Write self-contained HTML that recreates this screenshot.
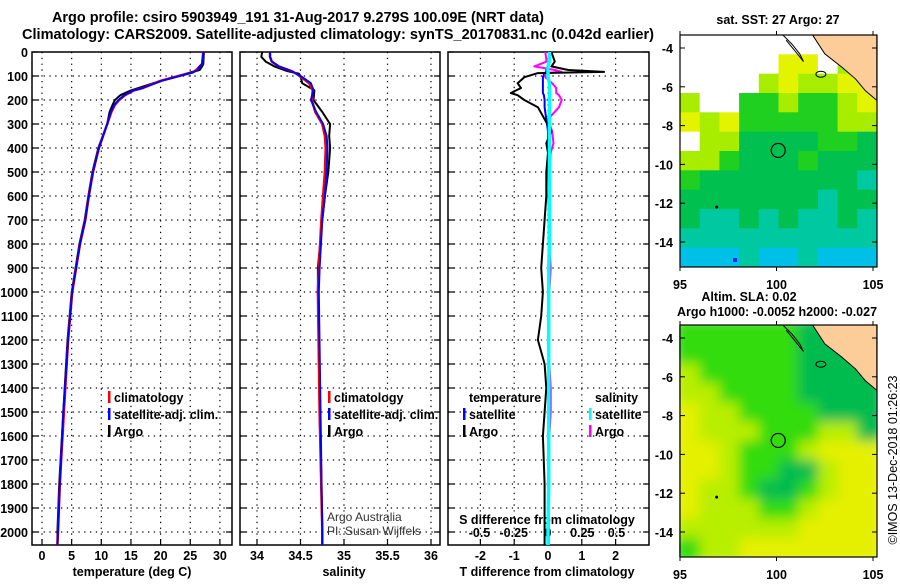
<!DOCTYPE html>
<html><head><meta charset="utf-8"><style>
body{margin:0;background:#fff}
svg text{font-family:"Liberation Sans",sans-serif;font-weight:bold;font-size:12.5px;fill:#000}
</style></head><body>
<svg id="c" width="900" height="580" xmlns="http://www.w3.org/2000/svg">
<defs>
<clipPath id="cp1"><rect x="32" y="52" width="200" height="493"/></clipPath>
<clipPath id="cp2"><rect x="240" y="52" width="200" height="493"/></clipPath>
<clipPath id="cp3"><rect x="448" y="52" width="201" height="493"/></clipPath>
<clipPath id="cm1"><rect x="680" y="35" width="197" height="232"/></clipPath>
<clipPath id="cm2"><rect x="679" y="325" width="198" height="232"/></clipPath>
<filter id="bl" x="-5%" y="-5%" width="110%" height="110%"><feGaussianBlur stdDeviation="6"/></filter>
</defs>
<text x="52" y="22" textLength="492" lengthAdjust="spacingAndGlyphs" style="font-size:14.5px">Argo profile: csiro 5903949_191 31-Aug-2017 9.279S 100.09E (NRT data)</text>
<text x="22" y="39" textLength="632" lengthAdjust="spacingAndGlyphs" style="font-size:14.5px">Climatology: CARS2009. Satellite-adjusted climatology: synTS_20170831.nc (0.042d earlier)</text>
<g id="g"></g>
</svg>
<script>
// ---- data ----
const depthT = [0,50,60,75,85,100,120,150,160,180,200,220,250,300,400,500,600,700,800,1000,1200,1500,1800,2000,2055];
const tempClim = [27.2,27.0,26.6,26.0,25.4,23.0,20.0,17.0,15.5,14.0,13.0,12.3,11.7,11.0,9.6,8.6,7.9,7.3,6.4,5.1,4.4,3.7,3.0,2.7,2.6];
const tempSat  = [27.2,27.0,26.6,26.2,25.5,23.2,20.2,17.0,15.4,13.9,12.9,12.2,11.6,11.0,9.6,8.6,7.9,7.3,6.4,5.1,4.4,3.6,3.0,2.7,2.6];
const tempArgo = [27.3,27.2,27.0,26.6,25.0,23.0,20.0,16.3,15.0,13.2,12.3,11.9,11.4,11.0,9.5,8.5,7.8,7.2,6.3,5.0,4.3,3.6,2.9,2.6,2.6];
const depthS = [0,20,40,60,80,90,100,130,160,200,250,300,350,400,500,600,700,900,1000,1500,2000,2055];
const salClim = [34.15,34.15,34.17,34.25,34.4,34.45,34.49,34.6,34.64,34.63,34.67,34.75,34.78,34.79,34.78,34.76,34.74,34.71,34.70,34.72,34.75,34.75];
const salSat  = [34.15,34.15,34.17,34.25,34.4,34.45,34.5,34.62,34.65,34.62,34.68,34.76,34.8,34.81,34.8,34.78,34.75,34.72,34.71,34.73,34.75,34.75];
const salArgo = [34.06,34.05,34.1,34.2,34.35,34.48,34.5,34.52,34.66,34.65,34.75,34.84,34.83,34.84,34.82,34.78,34.75,34.70,34.70,34.72,34.75,34.75];
const depthD = [0,40,60,75,83,88,105,130,150,171,180,200,230,280,330,380,420,500,600,700,800,900,1000,1100,1200,1300,1400,1500,1600,1800,2000,2055];
const tdiffArgo = [0.1,0.2,0.1,0.6,1.66,-0.3,-0.7,-0.9,-0.8,-1.1,-0.9,-0.7,-0.3,-0.1,0.1,-0.05,0,-0.05,-0.05,-0.1,-0.15,-0.2,-0.15,-0.2,-0.3,-0.1,-0.05,-0.1,-0.15,-0.1,-0.1,-0.1];
const tdiffSat  = [0.05,0.05,0.0,-0.05,-0.05,-0.1,-0.15,-0.15,-0.15,-0.15,-0.12,-0.1,-0.1,-0.05,0,0,0,0,0.02,0.02,0.02,0.02,0.02,0.02,0.02,0.02,0.02,0.02,0.02,0.02,0.02,0.02];
const sdiffArgo = [-0.02,-0.01,-0.1,0.05,0.1,-0.02,-0.02,0.03,0.06,0.06,0.08,0.1,0.08,0.0,0.03,0.04,0.02,0.01,0,0.01,0.01,0.02,0.01,0.01,0.01,0.01,0.02,0.02,0.01,0.01,0.0,0.0];
const sdiffSat  = [0.01,0.01,0.0,0.0,0.0,0.0,0.0,0.01,0.01,0.01,0.01,0.01,0.01,0.01,0.01,0.01,0.01,0.01,0.01,0.01,0.01,0.005,0.005,0.005,0.005,0.005,0.005,0.005,0.005,0.005,0,0];
const depthTicks = [0,100,200,300,400,500,600,700,800,900,1000,1100,1200,1300,1400,1500,1600,1700,1800,1900,2000];
const tempTicks = [0,5,10,15,20,25,30];
const salTicks = [34,34.5,35,35.5,36];
const salTickLabels = ["34","34.5","35","35.5","36"];
const tdTicks = [-2,-1,0,1,2];
const sdTicks = [-0.5,-0.25,0,0.25,0.5];
const sdTickLabels = ["-0.5","-0.25","0","0.25","0.5"];
const latTicks = [-4,-6,-8,-10,-12,-14];
const lonTicks = [95,100,105];
const sstGrid = ["WWWWWWWWWO","WWWWWYYWLO","WWWWLYLLYY","LWWGGLGGLY","YLYGGGGGLL","WLLDDDDGGD","LLGDDDGDDD","GDDDDDDDDT","DDDDDDDTDD","DTTDTDTTDT","TTTTTTTTTT","CCCTCCTCCC"];
const slaGrid = ["GGGGGGDDOO","GGGGGGDDDO","LGGGGGDDDD","LLGGGGDDDD","YLLGGGGDDD","YLLLGGGLLD","YYLGGGLYYY","YYLGGDDLYY","YLLGDDGLYY","YLLLGGLYYY","LLLLLLYYYY","GLLYYYYYYY"];

// ---- scales ----
const yD = d => 52 + d*0.24;
const xT = t => 42 + t*5.93;
const xS = s => 257 + (s-34)*87;
const xTD = v => 548 + v*33.8;
const xSD = v => 548 + v*137;
const mx1 = lon => 680 + (lon-95)*19.3;
const my1 = lat => 48 + (-4-lat)*19.4;
const mx2 = lon => 680 + (lon-95)*19.3;
const my2 = lat => 338 + (-4-lat)*19.4;

const NS="http://www.w3.org/2000/svg", G=document.getElementById('g');
function mk(tag, at, parent){const e=document.createElementNS(NS,tag);for(const k in at)e.setAttribute(k,at[k]);(parent||G).appendChild(e);return e;}
function txt(x,y,s,anchor,extra,parent){const e=mk('text',Object.assign({x:x,y:y,'text-anchor':anchor||'start'},extra||{}),parent);e.textContent=s;return e;}
function line(xs,ys,depths,xf,color,w,clip,name){
  const pts=depths.map((d,i)=>xf(xs[i]).toFixed(1)+','+yD(d).toFixed(1)).join(' ');
  const e=mk('polyline',{points:pts,fill:'none',stroke:color,'stroke-width':w,'stroke-linejoin':'round','clip-path':'url(#'+clip+')'});
  
  
}
function panel(x0,w,vticks,xf,clip,name){
  const g=mk('g',{});
  
  
  depthTicks.forEach(d=>{if(d>0)mk('line',{x1:x0,x2:x0+w,y1:yD(d),y2:yD(d),stroke:'#000','stroke-dasharray':'1.3,4.5','stroke-width':1.2},g);
    mk('line',{x1:x0,x2:x0+6,y1:yD(d),y2:yD(d),stroke:'#000','stroke-width':1.2},g);
    mk('line',{x1:x0+w-6,x2:x0+w,y1:yD(d),y2:yD(d),stroke:'#000','stroke-width':1.2},g);});
  vticks.forEach(v=>{const x=xf(v);mk('line',{x1:x,x2:x,y1:52,y2:545,stroke:'#000','stroke-dasharray':'1.3,4.5','stroke-width':1.2},g);
    mk('line',{x1:x,x2:x,y1:539,y2:545,stroke:'#000','stroke-width':1.2},g);});
  mk('rect',{x:x0,y:52,width:w,height:493,fill:'none',stroke:'#000','stroke-width':1.5},g);
}
panel(32,200,tempTicks,xT,'cp1','temperature-panel');
panel(240,200,salTicks,xS,'cp2','salinity-panel');
panel(448,201,tdTicks,xTD,'cp3','difference-panel');
depthTicks.forEach(d=>{const t=txt(28,yD(d)+5,String(d),'end');
  
  });
tempTicks.forEach(v=>{const t=txt(xT(v),560,String(v),'middle');
  
  });
salTicks.forEach((v,i)=>{const t=txt(xS(v),560,salTickLabels[i],'middle');
  
  });
tdTicks.forEach(v=>{const t=txt(xTD(v),560,String(v),'middle');
  
  });
sdTicks.forEach((v,i)=>{const t=txt(xSD(v),537,sdTickLabels[i],'middle');
  
  });
[[132,'temperature (deg C)','x-axis-title-temperature'],[344,'salinity','x-axis-title-salinity'],[547,'T difference from climatology','x-axis-title-tdiff']].forEach(a=>{const t=txt(a[0],576,a[1],'middle');
  
  });
{const t=txt(547,524,'S difference from climatology','middle');
 
 }

line(tempArgo,null,depthT,xT,'#000',2,'cp1','temp-argo-line');
line(tempClim,null,depthT,xT,'#f00',2.5,'cp1','temp-climatology-line');
line(tempSat,null,depthT,xT,'#00f',2,'cp1','temp-satellite-line');
line(salArgo,null,depthS,xS,'#000',2,'cp2','sal-argo-line');
line(salClim,null,depthS,xS,'#f00',2.5,'cp2','sal-climatology-line');
line(salSat,null,depthS,xS,'#00f',2,'cp2','sal-satellite-line');
line(tdiffSat,null,depthD,xTD,'#00f',2,'cp3','tdiff-satellite-line');
line(sdiffArgo,null,depthD,xSD,'#f0f',2,'cp3','sdiff-argo-line');
line(tdiffArgo,null,depthD,xTD,'#000',2,'cp3','tdiff-argo-line');
line(sdiffSat,null,depthD,xSD,'#0ff',3.5,'cp3','sdiff-satellite-line');

function leg(x,y,color,label,name){const g=mk('g',{});
  
  
  if(color)mk('rect',{x:x,y:y-11,width:2.5,height:12,fill:color},g);txt(x+6,y,label,'start',{},g);}
leg(108,402,'#f00','climatology','legend-climatology');
leg(108,419,'#00f','satellite-adj. clim.','legend-satellite-adj');
leg(108,436,'#000','Argo','legend-argo');
leg(328,402,'#f00','climatology','legend-sal-climatology');
leg(328,419,'#00f','satellite-adj. clim.','legend-sal-satellite-adj');
leg(328,436,'#000','Argo','legend-sal-argo');
leg(463,402,null,'temperature','legend-temperature-header');
leg(463,419,'#00f','satellite','legend-t-satellite');
leg(463,436,'#000','Argo','legend-t-argo');
leg(589,402,null,'salinity','legend-salinity-header');
leg(589,419,'#0ff','satellite','legend-s-satellite');
leg(589,436,'#f0f','Argo','legend-s-argo');
{const t=txt(327,521,'Argo Australia','start',{style:'font-weight:normal;font-size:12px;fill:#333'});
 
 
 const t2=txt(327,535,'PI: Susan Wijffels','start',{style:'font-weight:normal;font-size:12px;fill:#333'});
 
 }

const COL={W:'#ffffff',Y:'#e4f400',L:'#a8ec00',G:'#20d020',D:'#00c050',T:'#00c8a0',C:'#00c0e8',O:'#fccc99'};
const COL2={Y:'#e4f000',L:'#b8ee00',G:'#30dc10',D:'#00bc50',O:'#fccc99'};
function map(top,grid,cols,clip,mx,my,name,blur){
  const g=mk('g',{'clip-path':'url(#'+clip+')'});
  
  
  const inner=mk('g',blur?{filter:'url(#bl)'}:{},g);
  const cw=197/10, ch=232/12;
  grid.forEach((row,r)=>{for(let c=0;c<10;c++){
    const ch_=row[c]==='O'?(blur?'D':'W'):row[c];
    mk('rect',{x:(680+c*cw-(blur?6:0)*(c===0)).toFixed(1),y:(top+r*ch-(blur?6:0)*(r===0)).toFixed(1),width:(cw+0.6+(blur?6:0)*(c===0||c===9)).toFixed(1),height:(ch+0.6+(blur?6:0)*(r===0||r===11)).toFixed(1),fill:cols[ch_]},inner);}});
  const land=[[101.85,-3.3],[102.5,-4.3],[103.4,-5.0],[104.1,-5.6],[104.6,-6.2],[105.2,-6.7],[105.2,-3.3]];
  mk('polygon',{points:land.map(p=>mx(p[0])+','+my(p[1])).join(' '),fill:'#fccc99',stroke:'#000','stroke-width':1},g);
  mk('polyline',{points:[[100.3,-3.3],[100.8,-3.8],[101.2,-4.3],[101.4,-4.7],[101.0,-4.2],[100.5,-3.6]].map(p=>mx(p[0])+','+my(p[1])).join(' '),fill:'none',stroke:'#000','stroke-width':1},g);
  mk('ellipse',{cx:mx(102.3),cy:my(-5.35),rx:5,ry:3,fill:'none',stroke:'#000','stroke-width':1},g);
  mk('circle',{cx:mx(96.9),cy:my(-12.2),r:1.5,fill:'#000'},g);
  const c=mk('circle',{cx:mx(100.09),cy:my(-9.279),r:7,fill:'none',stroke:'#000','stroke-width':1.2},g);
  
  
  mk('rect',{x:680,y:top,width:197,height:232,fill:'none',stroke:'#000','stroke-width':1.2});
  latTicks.forEach(l=>{mk('line',{x1:680,x2:685,y1:my(l),y2:my(l),stroke:'#000'});mk('line',{x1:872,x2:877,y1:my(l),y2:my(l),stroke:'#000'});
    const t=txt(673,my(l)+5,String(l),'end');
    
    });
  lonTicks.forEach(l=>{mk('line',{x1:mx(l),x2:mx(l),y1:top,y2:top-4,stroke:'#000'});mk('line',{x1:mx(l),x2:mx(l),y1:top+232,y2:top+236,stroke:'#000'});
    const t=txt(mx(l),top+254,String(l),'middle');
    
    });
}
map(35,sstGrid,COL,'cm1',mx1,my1,'sst-map',false);
mk('rect',{x:733,y:258,width:4,height:4,fill:'#0030ff'});
map(325,slaGrid,COL2,'cm2',mx2,my2,'sla-map',true);
{const t=txt(778,24,'sat. SST: 27 Argo: 27','middle');
 
 
 const t2=txt(749,301,'Altim. SLA: 0.02','middle');
 
 
 const t3=txt(777,316,'Argo h1000: -0.0052 h2000: -0.027','middle');
 
 
 const t4=txt(0,0,'©IMOS 13-Dec-2018 01:26:23','middle',{transform:'translate(897,460) rotate(-90)',style:'font-weight:normal;font-size:12.5px'});
 
 }
</script>
</body></html>
